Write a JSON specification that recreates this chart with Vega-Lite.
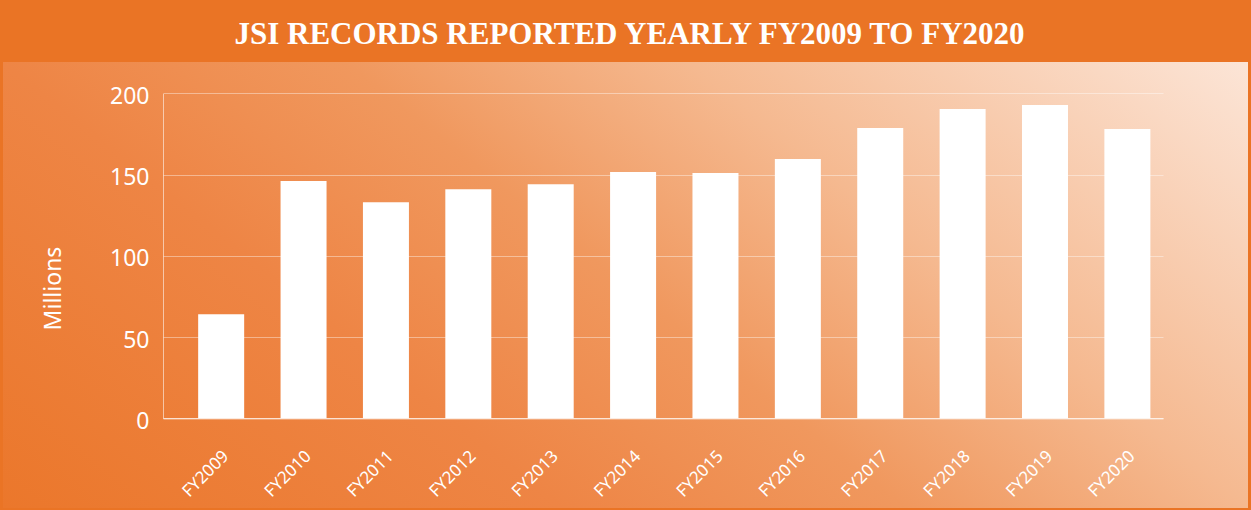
{
  "$schema": "https://vega.github.io/schema/vega-lite/v6.json",
  "width": 1245,
  "height": 446,
  "autosize": "none",
  "padding": {"left": 3, "top": 62, "right": 3, "bottom": 2},
  "background": "#EA7425",
  "title": {
    "text": "JSI RECORDS REPORTED YEARLY FY2009 TO FY2020",
    "font": "Liberation Serif",
    "fontSize": 31,
    "fontWeight": "bold",
    "color": "#ffffff",
    "anchor": "middle",
    "frame": "group",
    "offset": 11,
    "dx": 4
  },
  "config": {
    "view": {
      "stroke": null,
      "fill": {
        "gradient": "linear",
        "x1": 0, "y1": 1, "x2": 1.206, "y2": 0.457,
        "stops": [
          {"offset": 0, "color": "#EB772B"},
          {"offset": 0.31, "color": "#EE8545"},
          {"offset": 0.5, "color": "#F0985E"},
          {"offset": 0.69, "color": "#F5B990"},
          {"offset": 1, "color": "#FCE5D7"}
        ]
      }
    },
    "axis": {"labelFont": "Noto Sans", "titleFont": "Noto Sans", "labelColor": "#ffffff", "titleColor": "#ffffff"}
  },
  "data": {
    "values": [
      {"year": "FY2009", "records": 64},
      {"year": "FY2010", "records": 146},
      {"year": "FY2011", "records": 133},
      {"year": "FY2012", "records": 141},
      {"year": "FY2013", "records": 144},
      {"year": "FY2014", "records": 151.6},
      {"year": "FY2015", "records": 151},
      {"year": "FY2016", "records": 159.6},
      {"year": "FY2017", "records": 178.6},
      {"year": "FY2018", "records": 190.3},
      {"year": "FY2019", "records": 192.8},
      {"year": "FY2020", "records": 178}
    ]
  },
  "mark": {"type": "bar", "color": "#ffffff", "opacity": 1},
  "encoding": {
    "x": {
      "field": "year",
      "type": "nominal",
      "sort": null,
      "scale": {"range": [160, 1160], "paddingInner": 0.4416, "paddingOuter": 0.29, "align": 0.736},
      "axis": {
        "title": null,
        "offset": -89.7,
        "ticks": false,
        "grid": false,
        "domainColor": "#ffffff",
        "domainOpacity": 0.9,
        "domainWidth": 1,
        "labelAngle": -45,
        "labelAlign": "right",
        "labelBaseline": "middle",
        "labelFontSize": 17,
        "labelPadding": 35,
        "labelOffset": 5
      }
    },
    "y": {
      "field": "records",
      "type": "quantitative",
      "scale": {"domain": [0, 200], "range": [356.3, 31.3], "nice": false, "zero": true},
      "axis": {
        "title": "Millions",
        "offset": -160,
        "values": [0, 50, 100, 150, 200],
        "ticks": false,
        "grid": true,
        "gridColor": "#ffffff",
        "gridOpacity": 0.4,
        "gridWidth": 1,
        "domainColor": "#ffffff",
        "domainOpacity": 0.55,
        "labelFontSize": 23,
        "labelPadding": 14,
        "labelOffset": 3,
        "titleFontSize": 23,
        "titleFontWeight": "normal",
        "titleAngle": -90,
        "titleX": -110,
        "titleY": 226,
        "titleAlign": "center",
        "titleBaseline": "middle"
      }
    }
  }
}
